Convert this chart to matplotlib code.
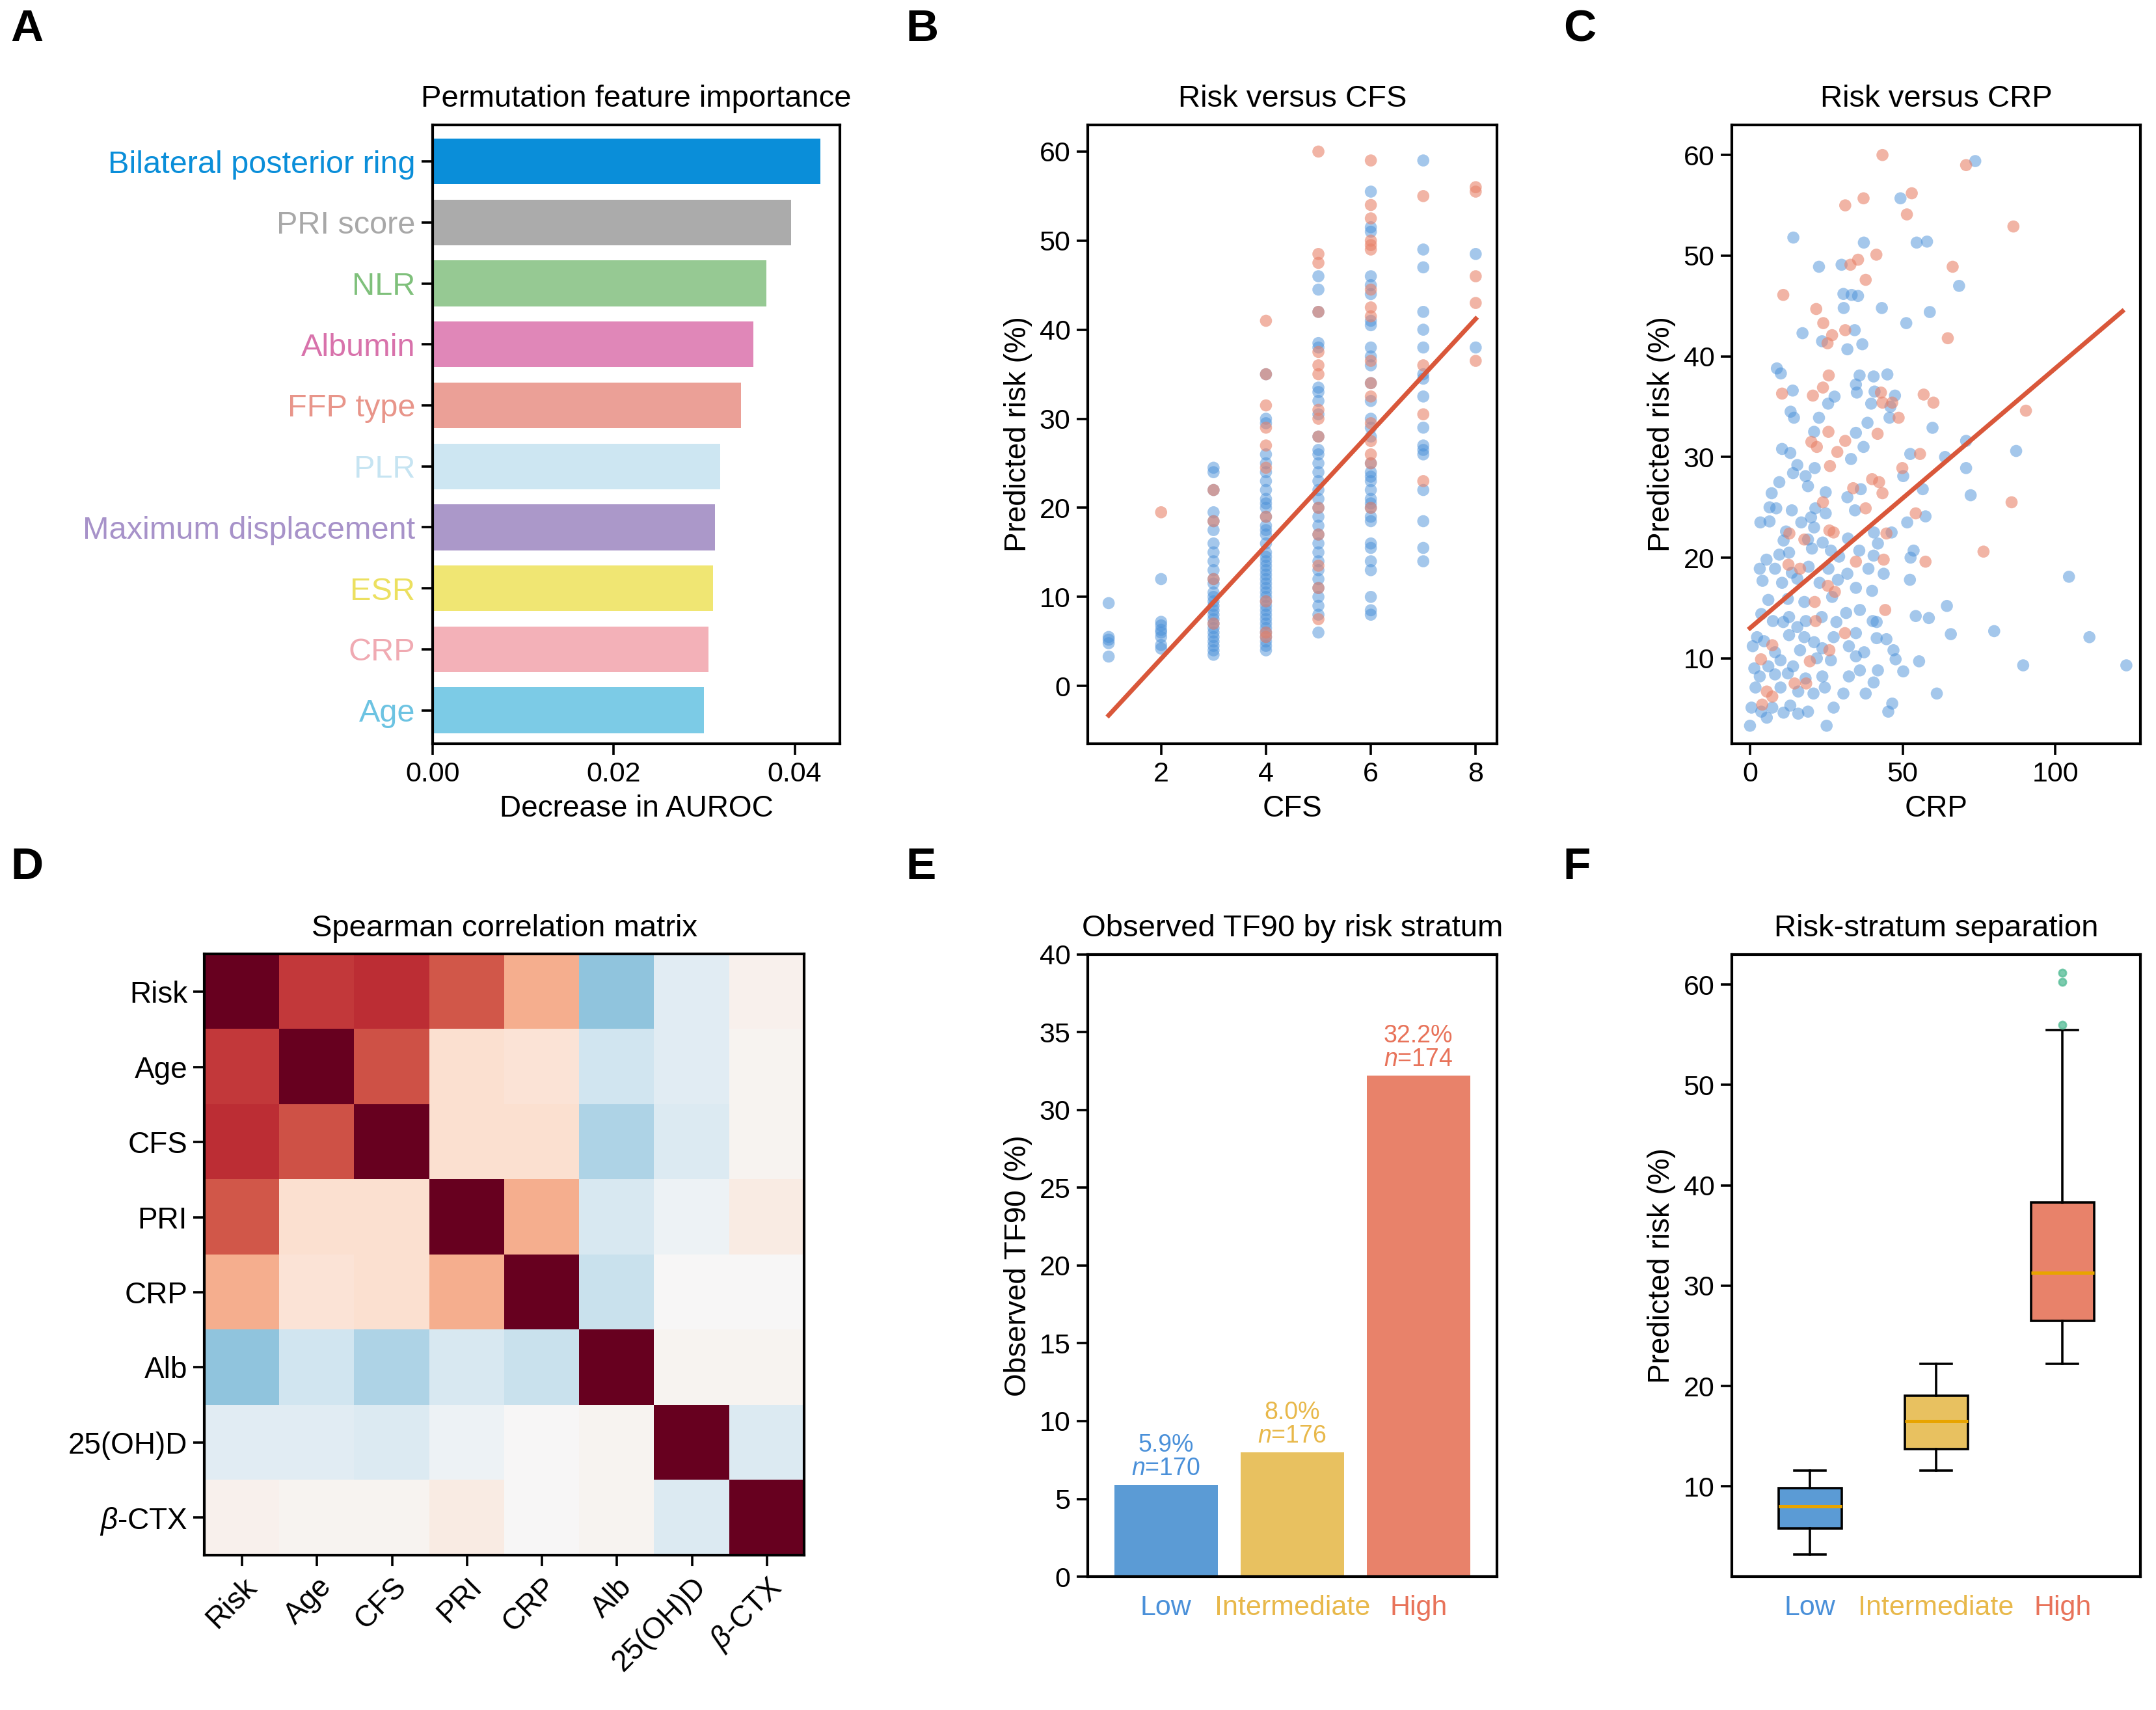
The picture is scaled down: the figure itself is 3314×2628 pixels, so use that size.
import numpy as np
import matplotlib

matplotlib.use("Agg")
import matplotlib.pyplot as plt  # noqa: E402

plt.rcParams["font.family"] = ["Liberation Sans", "DejaVu Sans"]
plt.rcParams["mathtext.fontset"] = "custom"
plt.rcParams["mathtext.it"] = "Liberation Sans:italic"
plt.rcParams["mathtext.rm"] = "Liberation Sans"

BLUE = "#4a90d9"
ORANGE = "#e8826a"
YELLOW = "#e8c160"
LINE = "#d9573a"

# ---- A: permutation importance
feat_names = ["Bilateral posterior ring", "PRI score", "NLR", "Albumin", "FFP type",
              "PLR", "Maximum displacement", "ESR", "CRP", "Age"]
feat_imp = [0.0428, 0.0396, 0.0369, 0.0354, 0.0341, 0.0318, 0.0312, 0.0310, 0.0305, 0.0300]
feat_colors = ["#0a8ed9", "#ababab", "#96c993", "#e087b8", "#eba097",
               "#cde6f2", "#ab98c9", "#f0e673", "#f3b1b8", "#7ccbe6"]
feat_text_colors = ["#0a8ed9", "#a8a8a8", "#7fc07b", "#d872ab", "#e8958a",
                    "#c6e4f2", "#a792c9", "#ece060", "#f0aab2", "#6cc3e2"]

# ---- B: risk vs CFS (per CFS value, y values)
cfs_blue = {
    1: [9.3, 5.5, 5.2, 4.8, 3.3],
    2: [12, 7.2, 6.8, 6.3, 6, 5.5, 4.6, 4.2],
    3: [24.5, 24, 22, 19.5, 18.5, 17.5, 16, 15, 14, 13, 12, 11.5, 10.5, 10, 9.5, 9, 8.5, 8,
        7.5, 7, 6.5, 6, 5.5, 5, 4.5, 4, 3.5],
    4: [35, 30, 29.5, 26, 25, 24, 23, 22, 21, 20.5, 20, 19, 18, 17.5, 17, 16, 15, 14.5, 14,
        13.5, 13, 12.5, 12, 11.5, 11, 10.5, 10, 9.5, 9, 8.5, 8, 7.5, 7, 6.5, 6, 5.5, 5, 4.5, 4],
    5: [46, 44.5, 42, 38.5, 38, 33.5, 33, 32, 30.5, 28, 26.5, 26, 25, 24, 23, 22, 21, 20, 19,
        18, 17, 16, 15, 14, 13, 12, 11, 10, 9, 8, 6],
    6: [55.5, 51.5, 51, 46, 45, 44, 41, 40.5, 38, 37, 36, 34, 32, 30, 29, 28, 25, 24, 23.5,
        23, 22, 21, 20.5, 20, 19, 18.5, 16, 15.5, 14, 13, 10, 8.5, 8],
    7: [59, 49, 47, 42, 40, 38, 35, 34.5, 32.5, 29, 27, 26.5, 26, 22, 18.5, 15.5, 14],
    8: [48.5, 38],
}
cfs_orange = {
    2: [19.5],
    3: [22, 18.5, 12, 7],
    4: [41, 35, 31.5, 29, 27, 24.5, 19, 9.5, 6, 5.5],
    5: [60, 48.5, 47.5, 42, 37.5, 36, 35, 31, 30, 28, 20, 17, 13.5, 11, 7.5],
    6: [59, 54, 52.5, 50, 49.5, 49, 44.5, 42.5, 41.5, 36.5, 34, 32.5, 29.5, 27.5, 26, 25, 20],
    7: [55, 36, 30.5, 23],
    8: [56, 55.5, 46, 43, 36.5],
}
fit_b = [6.36, -9.66]  # slope, intercept
fit_b_range = [1, 8]

# ---- C: risk vs CRP
crp_blue_x = [73.8, 49.3, 14.2, 37.3, 54.6, 58, 22.6, 30, 68.5, 30.6, 33.3, 35.4, 30.7, 43.2, 58.9,
              51.2, 17.2, 34.3, 23.6, 36.8, 31.9, 8.8, 10.1, 35.9, 40.5, 45, 14, 34.7, 35, 40.8,
              27.7, 47.5, 25.6, 39.7, 46, 13.3, 14.4, 22.6, 38.5, 45.7, 59.8, 21, 34.7, 70.8,
              10.5, 13.2, 37.2, 52.5, 87.2, 63.9, 15.5, 21.2, 33.1, 70.8, 14.1, 18.2, 50.2, 9.6,
              19, 56.6, 36.3, 24.8, 7.1, 72.3, 31.9, 6.4, 8.6, 13.7, 21.4, 34.4, 20, 24.8, 57.5,
              3.4, 6.4, 16.8, 21, 51.5, 11.8, 40.6, 46.4, 11, 19, 23.8, 32.1, 41.9, 5.4, 9.6,
              12.8, 20.3, 26.5, 35.8, 40.5, 53.6, 52.6, 29.2, 3.2, 8.2, 13.7, 19.2, 25.7, 31.9,
              38.8, 43.8, 52.4, 104.5, 4.1, 10.5, 15.5, 22.8, 28.8, 34.7, 40, 6, 12.4, 17.8, 26.9,
              3.7, 7.5, 12.8, 18.3, 23.5, 31.5, 36, 40.2, 54.3, 58.6, 64.5, 10.9, 15.5, 28.3,
              41.5, 2.3, 4.6, 12.8, 17.8, 21, 27.4, 34.7, 41.5, 44.7, 65.8, 80, 111.2, 0.9, 8.2,
              16.4, 23.7, 32.4, 37.4, 47, 1.4, 6, 10, 14.1, 21.9, 26.5, 34.7, 47.7, 55.4, 89.5,
              123.3, 3.2, 8.2, 12.4, 18.2, 23.7, 32.4, 36, 40.5, 41.9, 50.2, 1.8, 10, 15.8, 20.8,
              24.5, 30.6, 37.9, 61.2, 0.5, 3.7, 7.3, 11, 15.8, 19, 27.4, 45.3, 46.6, 0, 25.1,
              5.5, 13.2]
crp_blue_y = [59.4, 55.7, 51.8, 51.3, 51.3, 51.4, 48.9, 49.1, 47, 46.2, 46.1, 46, 44.8, 44.8, 44.4,
              43.3, 42.3, 42.6, 41.5, 41.2, 40.7, 38.8, 38.3, 38.1, 38, 38.2, 36.6, 37.2, 36.4,
              36.5, 36, 36.1, 35.3, 35.3, 35, 34.5, 33.9, 33.9, 33.4, 33.9, 32.9, 32.5, 32.4,
              31.6, 30.8, 30.4, 31, 30.3, 30.6, 30, 29.2, 28.9, 29.8, 28.9, 28.4, 28.1, 28.1,
              27.5, 27.1, 26.8, 26.8, 26.5, 26.4, 26.2, 26, 25, 24.9, 24.7, 24.9, 24.7, 24, 24.4,
              24.1, 23.5, 23.6, 23.5, 23, 23.5, 22.6, 22.5, 22.5, 21.7, 21.8, 21.5, 21.9, 21.4,
              19.8, 20.3, 20.5, 20.9, 20.7, 20.7, 20.2, 20.7, 20, 20.1, 18.9, 18.9, 18.5, 19.1,
              18.9, 18.4, 18.9, 18.4, 17.8, 18.1, 17.7, 17.5, 17.9, 17.5, 17.8, 17, 16.7, 15.8,
              15.9, 15.6, 16.1, 14.4, 13.7, 14.1, 13.7, 14.1, 14.5, 14.8, 13.7, 14.2, 14, 15.2,
              13.6, 13.1, 13.6, 13.6, 12.1, 11.7, 12.3, 12.1, 11.6, 12.1, 12.5, 12, 11.9, 12.4,
              12.7, 12.1, 11.2, 10.6, 10.8, 11, 11.2, 10.6, 10.8, 9, 9.2, 9.8, 9.2, 10, 9.8, 10.2,
              9.9, 9.7, 9.3, 9.3, 8.2, 8.4, 8.5, 8, 8.2, 8.2, 8.8, 7.6, 8.8, 8.7, 7.1, 7.1, 6.7,
              6.5, 7.1, 6.5, 6.5, 6.5, 5.1, 4.7, 5.1, 4.6, 4.5, 4.7, 5.1, 4.7, 5.5, 3.3, 3.3,
              4.1, 5.3]
crp_orange_x = [43.4, 70.8, 31.2, 37.2, 53, 51.4, 86.3, 41.4, 35.4, 32.9, 66.4, 37.9, 10.9, 21.7, 24,
                26.9, 31.2, 25.4, 64.8, 25.8, 10.5, 23.9, 20.6, 42.9, 43.4, 46.6, 56.9, 60.1, 48.7,
                90.4, 25.7, 20.1, 21.9, 31.2, 41.8, 28.6, 55.7, 26.2, 49.9, 40, 42.3, 33.8, 43.4,
                23.9, 37.9, 54.3, 85.7, 26, 27.4, 44.7, 12.9, 17.8, 43.8, 57.5, 76.5, 12.6, 16.4,
                34.7, 25.5, 27.8, 21.2, 44.3, 21.5, 31.1, 7.3, 26, 3.6, 19.6, 14.6, 18.4, 5.5, 7.3, 4]
crp_orange_y = [60, 59, 55, 55.7, 56.2, 54.1, 52.9, 50.1, 49.6, 49.1, 48.9, 47.6, 46.1, 44.7, 43.3,
                42.1, 42.6, 41.3, 41.8, 38.1, 36.3, 36.9, 36.1, 36.4, 35.4, 35.4, 36.2, 35.4, 33.9,
                34.6, 32.5, 31.5, 31, 31.6, 32.3, 30.5, 30.3, 29.1, 28.9, 27.8, 27.5, 26.9, 26.4,
                25.5, 24.9, 24.4, 25.5, 22.7, 22.5, 22.4, 22.4, 21.8, 19.8, 19.6, 20.6, 19.3, 18.9,
                19.6, 17.2, 16.6, 15.6, 14.8, 13.7, 12.5, 11.3, 10.8, 9.9, 9.7, 7.5, 7.5, 6.7, 6.2, 5.4]
fit_c = [0.258, 13.0]
fit_c_range = [0, 122]

# ---- D: Spearman correlation matrix
corr_labels = ["Risk", "Age", "CFS", "PRI", "CRP", "Alb", "25(OH)D", r"$\beta$-CTX"]
corr = np.array([
    [1.00, 0.71, 0.74, 0.62, 0.36, -0.40, -0.11, 0.04],
    [0.71, 1.00, 0.64, 0.16, 0.14, -0.20, -0.11, 0.03],
    [0.74, 0.64, 1.00, 0.16, 0.16, -0.31, -0.14, 0.03],
    [0.62, 0.16, 0.16, 1.00, 0.36, -0.16, -0.05, 0.08],
    [0.36, 0.14, 0.16, 0.36, 1.00, -0.22, 0.00, 0.00],
    [-0.40, -0.20, -0.31, -0.16, -0.22, 1.00, 0.03, 0.03],
    [-0.11, -0.11, -0.14, -0.05, 0.00, 0.03, 1.00, -0.14],
    [0.04, 0.03, 0.03, 0.08, 0.00, 0.03, -0.14, 1.00],
])

# ---- E: observed TF90
strata = ["Low", "Intermediate", "High"]
strata_colors = ["#5b9bd5", YELLOW, ORANGE]
strata_text = ["#4a90d9", "#e8b84a", "#e8735a"]
tf90 = [5.9, 8.0, 32.2]
strata_n = [170, 176, 174]

# ---- F: boxplot stats
box_low = [3.2, 5.8, 8.0, 9.8, 11.6]
box_mid = [11.6, 13.7, 16.5, 19.0, 22.2]
box_high = [22.2, 26.5, 31.3, 38.3, 55.5]
high_fliers = [56.0, 60.3, 61.2]

fig = plt.figure(figsize=(16.57, 13.14), dpi=200)
FS = 15.5
LS = 16.5
TS = 17

def style(ax):
    for s in ax.spines.values():
        s.set_linewidth(1.5)
    ax.tick_params(labelsize=FS, width=1.3, length=6)

def letter(x, y, t):
    fig.text(x, y, t, fontsize=25, fontweight="bold", ha="left", va="top")

# A
axA = fig.add_axes([0.2006, 0.565, 0.189, 0.362])
ypos = np.arange(len(feat_names))[::-1]
axA.barh(ypos, feat_imp, color=feat_colors, height=0.75)
axA.set_yticks(ypos)
axA.set_yticklabels(feat_names)
axA.set_xlim(0, 0.045)
axA.set_ylim(-0.55, 9.6)
axA.set_xticks([0, 0.02, 0.04])
axA.set_xticklabels(["0.00", "0.02", "0.04"])
axA.set_xlabel("Decrease in AUROC", fontsize=LS)
axA.set_title("Permutation feature importance", fontsize=TS, pad=10)
style(axA)
axA.tick_params(axis="y", labelsize=17.5)
for lab, c in zip(axA.get_yticklabels(), feat_text_colors):
    lab.set_color(c)

# B
axB = fig.add_axes([0.5045, 0.565, 0.1897, 0.362])
for k, ys in cfs_blue.items():
    axB.scatter([k] * len(ys), ys, s=45, color=BLUE, alpha=0.5, edgecolors="none")
for k, ys in cfs_orange.items():
    axB.scatter([k] * len(ys), ys, s=45, color=ORANGE, alpha=0.6, edgecolors="none")
xb = np.array(fit_b_range)
axB.plot(xb, fit_b[0] * xb + fit_b[1], color=LINE, lw=2.5)
axB.set_xlim(0.6, 8.4)
axB.set_ylim(-6.5, 63)
axB.set_xticks([2, 4, 6, 8])
axB.set_yticks(range(0, 61, 10))
axB.set_xlabel("CFS", fontsize=LS)
axB.set_ylabel("Predicted risk (%)", fontsize=LS)
axB.set_title("Risk versus CFS", fontsize=TS, pad=10)
style(axB)

# C
axC = fig.add_axes([0.8032, 0.565, 0.1897, 0.362])
axC.scatter(crp_blue_x, crp_blue_y, s=45, color=BLUE, alpha=0.5, edgecolors="none")
axC.scatter(crp_orange_x, crp_orange_y, s=45, color=ORANGE, alpha=0.6, edgecolors="none")
xc = np.array(fit_c_range)
axC.plot(xc, fit_c[0] * xc + fit_c[1], color=LINE, lw=2.5)
axC.set_xlim(-6, 128)
axC.set_ylim(1.5, 63)
axC.set_xticks([0, 50, 100])
axC.set_yticks(range(10, 61, 10))
axC.set_xlabel("CRP", fontsize=LS)
axC.set_ylabel("Predicted risk (%)", fontsize=LS)
axC.set_title("Risk versus CRP", fontsize=TS, pad=10)
style(axC)

# D
axD = fig.add_axes([0.0949, 0.0905, 0.2782, 0.3515])
axD.imshow(corr, cmap="RdBu_r", vmin=-1, vmax=1, aspect="auto")
axD.set_xticks(range(8))
axD.set_yticks(range(8))
axD.set_xticklabels(corr_labels, rotation=45, ha="right", rotation_mode="anchor")
axD.set_yticklabels(corr_labels)
axD.set_title("Spearman correlation matrix", fontsize=TS, pad=10)
style(axD)
axD.tick_params(labelsize=LS)

# E
axE = fig.add_axes([0.5045, 0.078, 0.1897, 0.3638])
xe = np.arange(3)
axE.bar(xe, tf90, color=strata_colors, width=0.82)
for i, (v, n) in enumerate(zip(tf90, strata_n)):
    axE.text(i, v + 0.3, f"{v:.1f}%\n$n$={n}", ha="center", va="bottom",
             fontsize=13.5, color=strata_text[i], linespacing=1.0)
axE.set_xticks(xe)
axE.set_xticklabels(strata)
axE.set_xlim(-0.62, 2.62)
axE.set_ylim(0, 40)
axE.set_yticks(range(0, 41, 5))
axE.set_ylabel("Observed TF90 (%)", fontsize=LS)
axE.set_title("Observed TF90 by risk stratum", fontsize=TS, pad=10)
style(axE)
axE.tick_params(axis="x", length=0, pad=10)
for lab, c in zip(axE.get_xticklabels(), strata_text):
    lab.set_color(c)

# F
axF = fig.add_axes([0.8032, 0.078, 0.1897, 0.3638])
stats = []
for vals, fl in zip([box_low, box_mid, box_high], [[], [], high_fliers]):
    stats.append(dict(whislo=vals[0], q1=vals[1], med=vals[2], q3=vals[3], whishi=vals[4], fliers=fl))
bp = axF.bxp(stats, positions=[0, 1, 2], widths=0.5, patch_artist=True,
             medianprops=dict(color="#e8a400", lw=1.8),
             whiskerprops=dict(lw=1.3), capprops=dict(lw=1.3),
             flierprops=dict(marker="o", markersize=4, markerfacecolor="#5bbf9a",
                             markeredgecolor="#5bbf9a", alpha=0.8))
for patch, c in zip(bp["boxes"], strata_colors):
    patch.set_facecolor(c)
    patch.set_edgecolor("black")
    patch.set_linewidth(1.3)
axF.set_xticks([0, 1, 2])
axF.set_xticklabels(strata)
axF.set_xlim(-0.62, 2.62)
axF.set_ylim(1, 63)
axF.set_yticks(range(10, 61, 10))
axF.set_ylabel("Predicted risk (%)", fontsize=LS)
axF.set_title("Risk-stratum separation", fontsize=TS, pad=10)
style(axF)
axF.tick_params(axis="x", length=0, pad=10)
for lab, c in zip(axF.get_xticklabels(), strata_text):
    lab.set_color(c)

letter(0.005, 0.995, "A")
letter(0.42, 0.995, "B")
letter(0.725, 0.995, "C")
letter(0.005, 0.505, "D")
letter(0.42, 0.505, "E")
letter(0.725, 0.505, "F")

fig.savefig("out.png", dpi=200, facecolor="white")
